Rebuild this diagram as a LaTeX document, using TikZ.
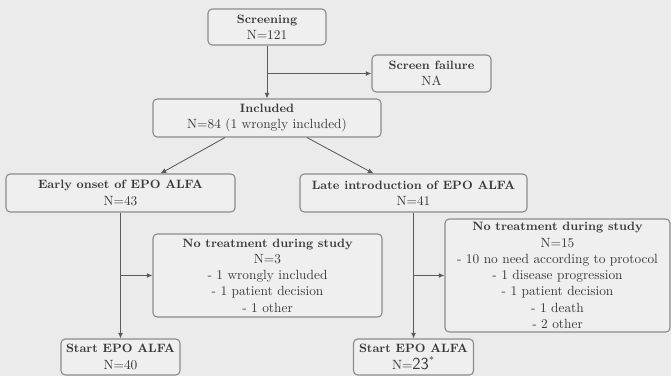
\documentclass[tikz,border=0pt]{standalone}
\usetikzlibrary{arrows.meta}
\definecolor{bggray}{HTML}{EBEBEB}
\definecolor{boxfill}{HTML}{EFEFEF}
\definecolor{boxline}{HTML}{8C8C8C}
\definecolor{linecol}{HTML}{5A5A5A}
\definecolor{txtgray}{HTML}{383838}
\newcommand\hd[1]{{\fontsize{8.6}{11.6}\selectfont\bfseries #1}}
\begin{document}
\begin{tikzpicture}[x=0.025cm, y=-0.025cm,
	box/.style={draw=boxline, thick, rounded corners=3pt, fill=boxfill, text=txtgray, align=center, inner sep=0pt, font=\fontsize{9.5}{11.6}\selectfont},
	arr/.style={-{Latex[length=4pt,width=3.5pt]}, draw=linecol, semithick}]
			\fill[bggray] (0,0) rectangle (671,376);
			\useasboundingbox (0,0) rectangle (671,376);
			\node[box, minimum width=2.95cm, minimum height=0.9cm] (screen) at (267,27) {\hd{Screening}\\N=121};
			\node[box, minimum width=2.975cm, minimum height=0.925cm] (fail) at (431.5,73.5) {\hd{Screen failure}\\NA};
			\node[box, minimum width=5.7cm, minimum height=0.95cm] (incl) at (267,118) {\hd{Included}\\N=84 (1 wrongly included)};
			\node[box, minimum width=5.725cm, minimum height=0.95cm] (early) at (120.5,193) {\hd{Early onset of EPO ALFA}\\N=43};
			\node[box, minimum width=5.675cm, minimum height=0.95cm] (late) at (413.5,193) {\hd{Late introduction of EPO ALFA}\\N=41};
			\node[box, minimum width=5.725cm, minimum height=2.075cm] (notrA) at (267.5,275.5) {\hd{No treatment during study}\\N=3\\- 1 wrongly included\\- 1 patient decision\\- 1 other};
			\node[box, minimum width=5.625cm, minimum height=2.825cm] (notrB) at (557.5,275.5) {\hd{No treatment during study}\\N=15\\- 10 no need according to protocol\\- 1 disease progression\\- 1 patient decision\\- 1 death\\- 2 other};
			\node[box, minimum width=2.975cm, minimum height=0.9cm] (startA) at (120.5,357) {\hd{Start EPO ALFA}\\N=40};
			\node[box, minimum width=3cm, minimum height=0.9cm] (startB) at (413.5,357) {\hd{Start EPO ALFA}\\N=\textsf{\large 23}\textsuperscript{*}};
			\draw[arr] (screen) -- (incl);
			\draw[arr] (screen.south |- fail.west) -- (fail.west);
			\draw[arr] ([xshift=-1.05cm]incl.south) -- ([xshift=1cm]early.north);
			\draw[arr] ([xshift=1cm]incl.south) -- ([xshift=-1cm]late.north);
			\draw[arr] (early) -- (startA);
			\draw[arr] (early.south |- notrA.west) -- (notrA.west);
			\draw[arr] (late) -- (startB);
			\draw[arr] (late.south |- notrB.west) -- (notrB.west);
\end{tikzpicture}
\end{document}
